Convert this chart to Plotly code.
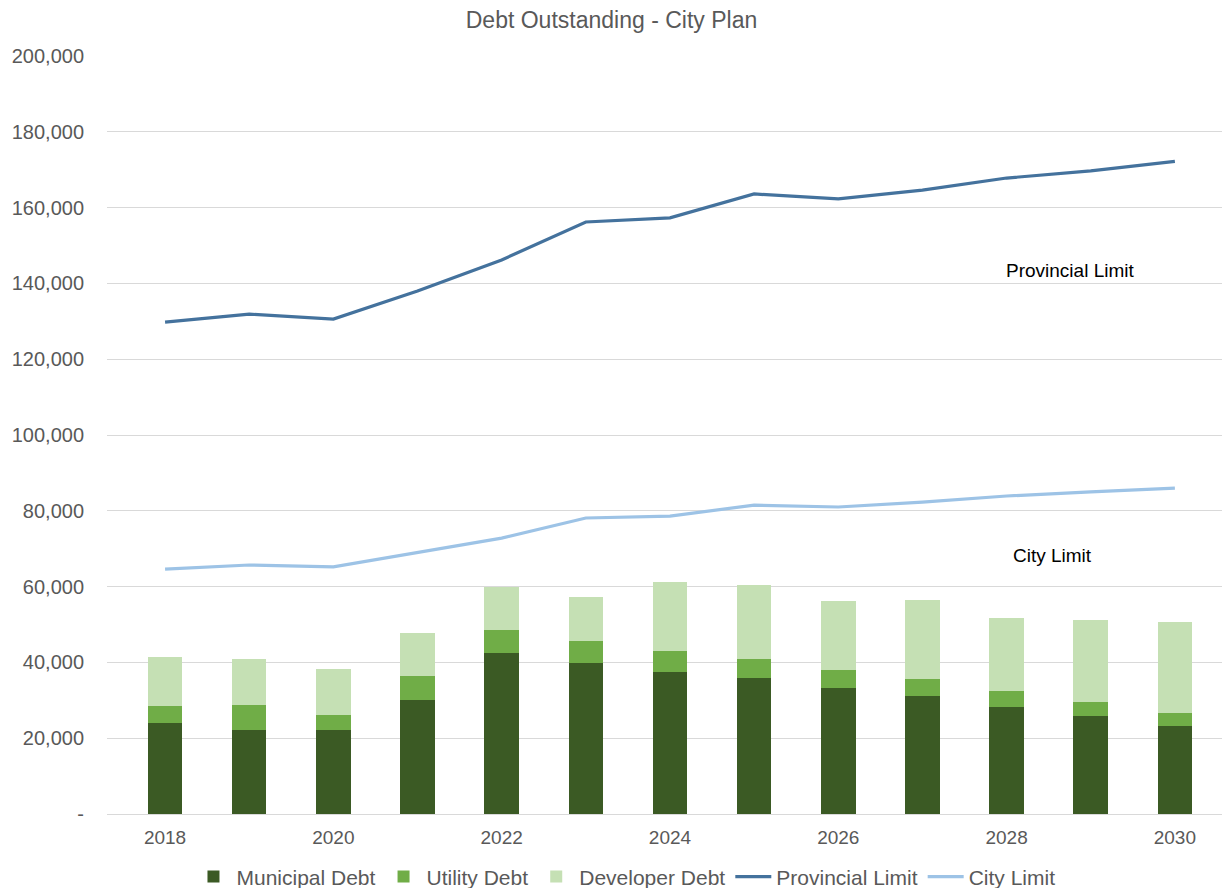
import plotly.graph_objects as go

years = list(range(2018, 2031))
municipal = [24.0, 22.2, 22.2, 30.1, 42.5, 39.9, 37.4, 35.8, 33.2, 31.1, 28.3, 25.8, 23.1]
utility = [4.5, 6.6, 3.9, 6.3, 6.0, 5.7, 5.6, 5.1, 4.9, 4.5, 4.2, 3.8, 3.5]
developer = [13.0, 12.1, 12.2, 11.3, 11.5, 11.6, 18.2, 19.5, 18.1, 20.9, 19.3, 21.5, 24.1]
provincial = [129.8, 131.9, 130.6, 138.0, 146.2, 156.2, 157.3, 163.6, 162.3, 164.6, 167.8, 169.7, 172.2]
city = [64.6, 65.7, 65.2, 68.9, 72.8, 78.1, 78.6, 81.5, 81.0, 82.3, 83.9, 85.0, 86.0]

municipal = [v * 1000 for v in municipal]
utility = [v * 1000 for v in utility]
developer = [v * 1000 for v in developer]
provincial = [v * 1000 for v in provincial]
city = [v * 1000 for v in city]

y_ticks = list(range(0, 200001, 20000))
y_ticktext = ["-"] + [f"{v:,}" for v in y_ticks[1:]]
x_ticks = [2018, 2020, 2022, 2024, 2026, 2028, 2030]

FONT = "Liberation Sans, Arial, sans-serif"
GRAY = "#595959"

fig = go.Figure()
fig.add_trace(go.Bar(x=years, y=municipal, name="Municipal Debt",
                     marker=dict(color="#3b5a24", line=dict(width=0))))
fig.add_trace(go.Bar(x=years, y=utility, name="Utility Debt",
                     marker=dict(color="#70ad47", line=dict(width=0))))
fig.add_trace(go.Bar(x=years, y=developer, name="Developer Debt",
                     marker=dict(color="#c5e0b4", line=dict(width=0))))
fig.add_trace(go.Scatter(x=years, y=provincial, name="Provincial Limit", mode="lines",
                         line=dict(color="#44729d", width=3.2)))
fig.add_trace(go.Scatter(x=years, y=city, name="City Limit", mode="lines",
                         line=dict(color="#9dc3e6", width=3.2)))

fig.add_annotation(x=2028.75, y=143500, text="Provincial Limit", showarrow=False,
                   font=dict(family=FONT, size=19, color="#000000"))
fig.add_annotation(x=2028.55, y=68300, text="City Limit", showarrow=False,
                   font=dict(family=FONT, size=19, color="#000000"))

fig.update_layout(
    width=1223, height=888,
    barmode="stack", bargap=0.59,
    paper_bgcolor="white", plot_bgcolor="white",
    margin=dict(l=107, r=1, t=56, b=74, autoexpand=False),
    title=dict(text="Debt Outstanding - City Plan", x=0.5, xanchor="center",
               y=1 - 20 / 888, yanchor="middle",
               font=dict(family=FONT, size=23, color=GRAY)),
    font=dict(family=FONT, size=20, color=GRAY),
    legend=dict(orientation="h", x=0.465, xanchor="center", y=-0.083, yanchor="middle",
                font=dict(family=FONT, size=21, color=GRAY), traceorder="normal",
                itemwidth=36),
    showlegend=True,
)
fig.update_xaxes(range=[2017.31, 2030.56], tickvals=x_ticks, ticktext=[str(v) for v in x_ticks],
                 showgrid=False, zeroline=False, showline=True, linecolor="#d9d9d9", linewidth=1,
                 ticks="outside", ticklen=6, tickcolor="rgba(0,0,0,0)",
                 tickfont=dict(family=FONT, size=19, color=GRAY))
fig.update_yaxes(range=[0, 200000], tickvals=y_ticks, ticktext=y_ticktext,
                 showgrid=True, gridcolor="#d9d9d9", gridwidth=1, zeroline=False,
                 ticklabelstandoff=22,
                 tickfont=dict(family=FONT, size=20, color=GRAY))

fig.write_html("out.html")
